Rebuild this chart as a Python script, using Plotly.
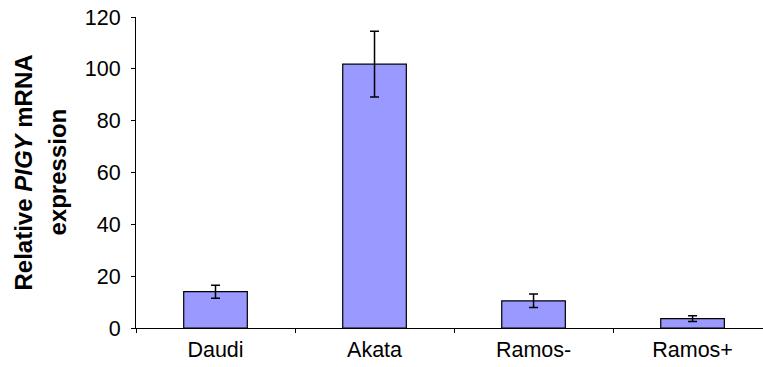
import plotly.graph_objects as go

# Cell lines and relative PIGY mRNA expression (mean and error)
cell_lines = ["Daudi", "Akata", "Ramos-", "Ramos+"]
expression = [14.0, 101.8, 10.5, 3.6]
errors = [2.5, 12.7, 2.6, 1.1]
y_ticks = [0, 20, 40, 60, 80, 100, 120]
title_lines = ["<b>Relative <i>PIGY</i> mRNA</b>", "<b>expression</b>"]

W, H = 763, 367
L, R, T, B = 136, 0, 17, 39
plot_w = W - L - R

fig = go.Figure()
fig.add_trace(go.Bar(
    x=cell_lines,
    y=expression,
    width=0.40,
    marker=dict(color="#9999FF", line=dict(color="black", width=1.2)),
    error_y=dict(type="data", array=errors, visible=True,
                 color="black", thickness=1.5, width=4.5),
))

fig.update_layout(
    width=W, height=H,
    margin=dict(l=L, r=R, t=T, b=B),
    plot_bgcolor="white", paper_bgcolor="white",
    showlegend=False,
    font=dict(family="Liberation Sans, Arial, sans-serif", color="black"),
)
fig.update_xaxes(
    type="category",
    range=[-0.5, 3.443],
    showline=True, linecolor="black", linewidth=1,
    ticks="outside", tickson="boundaries", ticklen=4, tickcolor="black",
    tickfont=dict(size=21.5),
    ticklabelstandoff=2,
    showgrid=False,
)
fig.update_yaxes(
    range=[0, 120],
    tickvals=y_ticks,
    showline=True, linecolor="black", linewidth=1,
    ticks="outside", ticklen=4, tickcolor="black",
    tickfont=dict(size=21.5),
    ticklabelstandoff=6,
    showgrid=False, zeroline=False,
)

# Two-line vertical y-axis title, placed line by line for spacing
for text, px in zip(title_lines, [23, 57]):
    fig.add_annotation(
        text=text, textangle=-90,
        xref="paper", yref="paper",
        x=(px - L) / plot_w, y=0.5,
        xanchor="center", yanchor="middle",
        showarrow=False, font=dict(size=24),
    )

fig.write_html("out.html")
